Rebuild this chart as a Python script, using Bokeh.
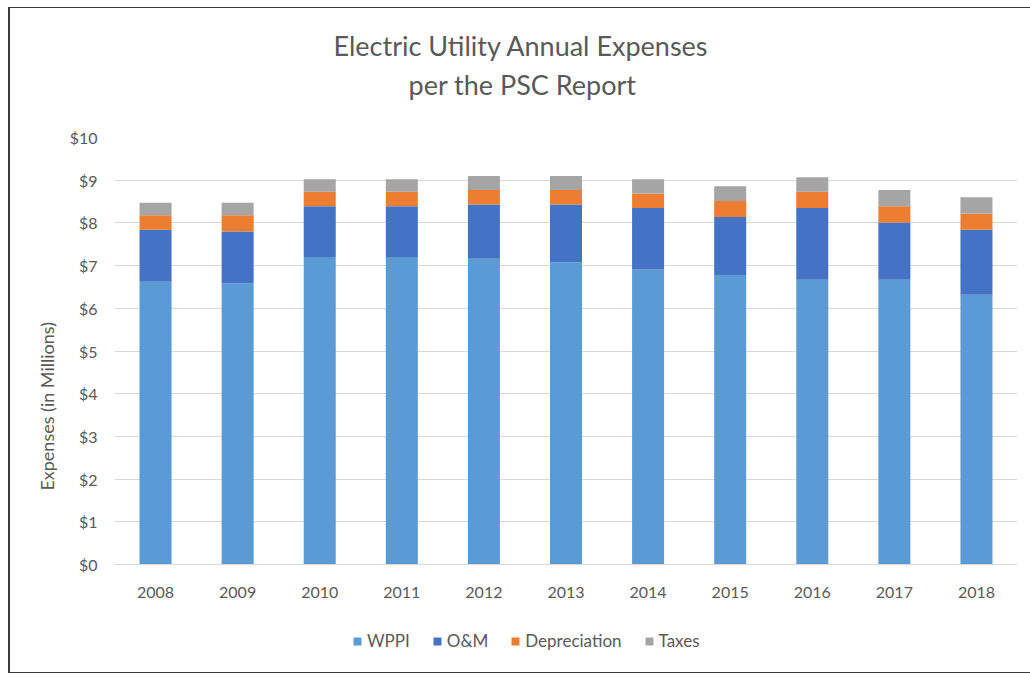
from bokeh.plotting import figure
from bokeh.layouts import column
from bokeh.models import (FactorRange, Range1d, FixedTicker, PrintfTickFormatter,
                          Legend, LegendItem, ColumnDataSource, Title)
from bokeh.embed import file_html
from bokeh.resources import INLINE

years = ["2008", "2009", "2010", "2011", "2012", "2013", "2014", "2015", "2016", "2017", "2018"]
wppi = [6.62, 6.58, 7.20, 7.20, 7.16, 7.08, 6.91, 6.78, 6.67, 6.67, 6.32]
om = [1.22, 1.22, 1.19, 1.19, 1.27, 1.35, 1.44, 1.36, 1.68, 1.34, 1.52]
depreciation = [0.34, 0.38, 0.34, 0.34, 0.34, 0.34, 0.34, 0.37, 0.38, 0.38, 0.38]
taxes = [0.29, 0.29, 0.29, 0.29, 0.33, 0.33, 0.33, 0.35, 0.34, 0.38, 0.38]
series = ["WPPI", "O&M", "Depreciation", "Taxes"]
colors = ["#5B9BD5", "#4472C4", "#ED7D31", "#A5A5A5"]
y_ticks = [0, 1, 2, 3, 4, 5, 6, 7, 8, 9, 10]
title_lines = ["Electric Utility Annual Expenses", "per the PSC Report"]
y_label = "Expenses (in Millions)"

FONT = "Lato"
TXT = "#595959"
NBSP = "\u00a0"

src = ColumnDataSource(dict(year=years, WPPI=wppi, **{"O&M": om}, Depreciation=depreciation, Taxes=taxes))

# ---- main chart ----
p = figure(width=1020, height=612, output_backend="svg", toolbar_location=None,
           x_range=FactorRange(*years, range_padding=0), y_range=Range1d(0, 10),
           min_border_left=104, min_border_right=13, min_border_top=129, min_border_bottom=56)
p.outline_line_color = None
p.background_fill_color = "white"
p.border_fill_color = "white"

p.vbar_stack(series, x="year", width=0.39, source=src, color=colors, line_color=None)

p.xgrid.grid_line_color = None
p.ygrid.grid_line_color = "#D9D9D9"
p.ygrid.grid_line_width = 1
p.yaxis.ticker = FixedTicker(ticks=y_ticks)
p.yaxis.formatter = PrintfTickFormatter(format="$%d")
p.yaxis.axis_line_color = None
p.yaxis.major_tick_line_color = None
p.yaxis.minor_tick_line_color = None
p.yaxis.major_tick_out = 0
p.yaxis.major_label_standoff = 17
p.xaxis.axis_line_color = "#D9D9D9"
p.xaxis.major_tick_line_color = None
p.xaxis.minor_tick_line_color = None
p.xaxis.major_tick_out = 0
p.xaxis.major_label_standoff = 22
for ax in (p.xaxis, p.yaxis):
    ax.major_label_text_font = FONT
    ax.major_label_text_font_size = "16px"
    ax.major_label_text_color = TXT

# Y axis title (trailing no-break spaces shift the visible words toward the bottom, as in the original)
p.yaxis.axis_label = y_label + NBSP * 24
p.yaxis.axis_label_text_font = FONT
p.yaxis.axis_label_text_font_size = "18px"
p.yaxis.axis_label_text_font_style = "normal"
p.yaxis.axis_label_text_color = TXT
p.yaxis.axis_label_standoff = 9

# Two-line chart title (first added sits closest to the plot area; first one is an empty spacer)
title_style = dict(text_font=FONT, text_font_size="27px", text_font_style="normal", text_color=TXT)
p.add_layout(Title(text=NBSP, align="left", offset=0, standoff=0, **title_style), "above")
p.add_layout(Title(text=title_lines[1], align="left", offset=294, standoff=4, **title_style), "above")
p.add_layout(Title(text=title_lines[0], align="left", offset=219, standoff=4, **title_style), "above")

# ---- legend strip below the chart (same stacked bars, y range set above them so only the key shows) ----
q = figure(width=1020, height=52, output_backend="svg", toolbar_location=None,
           x_range=FactorRange(*years, range_padding=0), y_range=Range1d(100, 101),
           x_axis_type=None, y_axis_type=None,
           min_border=0, min_border_left=0, min_border_right=0, min_border_top=0, min_border_bottom=0)
q.outline_line_color = None
q.xgrid.visible = False
q.ygrid.visible = False
q.background_fill_color = "white"
q.border_fill_color = "white"
swatches = q.vbar_stack(series, x="year", width=0.39, source=src, color=colors, line_color=None)
legend = Legend(items=[LegendItem(label=s, renderers=[r]) for s, r in zip(series, swatches)],
                location=(238, 21), orientation="horizontal",
                glyph_width=10, glyph_height=10, label_standoff=5, spacing=22,
                padding=0, margin=0, border_line_color=None, background_fill_alpha=0,
                label_text_font=FONT, label_text_font_size="17px", label_text_color=TXT,
                label_height=20)
q.add_layout(legend)

layout = column(p, q, spacing=0)
layout.styles = {"margin-left": "8px", "margin-top": "7px",
                 "border-left": "2px solid #3a3a3a", "border-top": "1px solid #3a3a3a",
                 "border-bottom": "1px solid #3a3a3a"}

open("out.html", "w").write(file_html(layout, INLINE))
